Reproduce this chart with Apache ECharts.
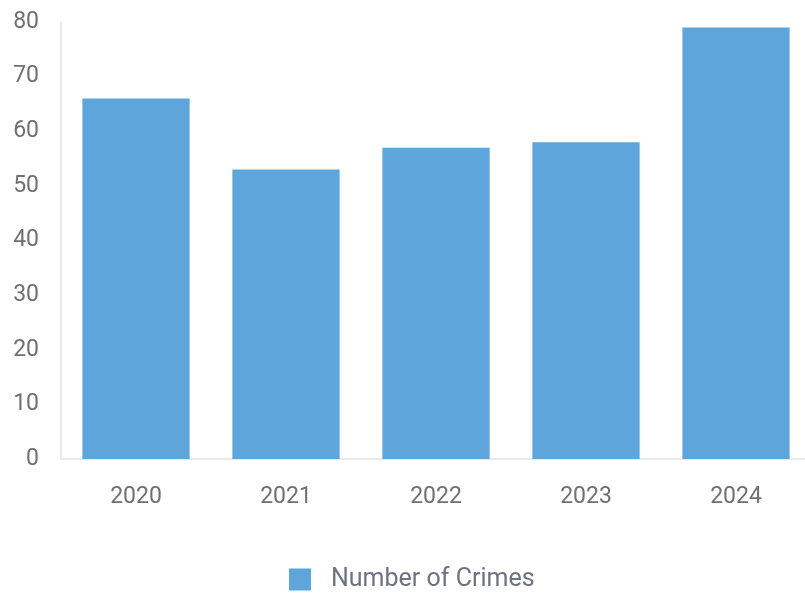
<!DOCTYPE html>
<html><head><meta charset="utf-8">
<script src="https://cdn.jsdelivr.net/npm/echarts@6/dist/echarts.min.js"></script>
<style>html,body{margin:0;padding:0;background:#fff}#c{width:805px;height:602px}</style>
</head><body><div id="c"></div>
<script>
var categories = ['2020','2021','2022','2023','2024'];
var crimes = [66, 53, 57, 58, 79];
var seriesName = 'Number of Crimes';
var chart = echarts.init(document.getElementById('c'));
chart.setOption({
  animation: false,
  textStyle: {fontFamily: 'Roboto'},
  grid: {left: 61, width: 750, top: 22, height: 437, outerBoundsMode: 'none', containLabel: false},
  legend: {
    top: 562, left: 284,
    itemWidth: 22, itemHeight: 22,
    icon: 'rect',
    textStyle: {fontSize: 25, color: '#6b7480', fontFamily: 'Roboto', padding: [0, 0, 0, 15]},
    data: [seriesName]
  },
  xAxis: {
    type: 'category', data: categories,
    axisLine: {lineStyle: {color: '#e3e3e3', width: 1.5}},
    axisTick: {show: false},
    axisLabel: {fontSize: 23, color: '#707070', margin: 27}
  },
  yAxis: {
    type: 'value', min: 0, max: 80, interval: 10,
    axisLine: {show: true, lineStyle: {color: '#e3e3e3', width: 1.5}},
    splitLine: {show: false},
    axisTick: {show: false},
    axisLabel: {fontSize: 23, color: '#707070', margin: 22}
  },
  series: [{
    name: seriesName, type: 'bar', data: crimes,
    barCategoryGap: '28.5%',
    itemStyle: {color: '#5da5da'}
  }]
});
</script></body></html>
